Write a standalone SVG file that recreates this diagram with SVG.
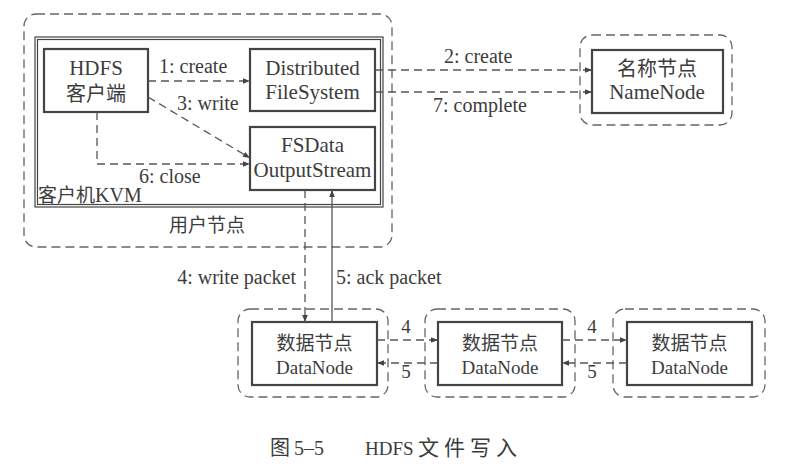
<svg xmlns="http://www.w3.org/2000/svg" width="793" height="468" viewBox="0 0 793 468">
<style>
.bg{fill:#ffffff}
.grp{fill:none;stroke:#666;stroke-width:1.3;stroke-dasharray:9 5}
.box{fill:#fff;stroke:#444;stroke-width:2.2}
.kvm{fill:none;stroke:#444;stroke-width:1.2}
.en{font-family:"Liberation Serif","Times New Roman",serif;fill:#3c3c3c}
.cn{font-family:"Noto Sans CJK SC","Noto Sans CJK JP",sans-serif;fill:#3c3c3c}
.dash{fill:none;stroke:#555;stroke-width:1.3;stroke-dasharray:8 5}
.solid{fill:none;stroke:#555;stroke-width:1.3}
</style>
<defs>
<marker id="ah" viewBox="0 0 10 10" refX="10" refY="5" markerWidth="9" markerHeight="7" markerUnits="userSpaceOnUse" orient="auto">
<path d="M0,1 L10,5 L0,9 Z" fill="#444"/>
</marker>
</defs>
<rect class="bg" x="0" y="0" width="793" height="468"/>

<g id="user-node">
<rect class="grp" x="24" y="14" width="368" height="233" rx="12"/>
<text class="cn" x="207" y="232" font-size="19" text-anchor="middle">用户节点</text>
</g>
<g id="client-kvm">
<rect class="kvm" x="35" y="37" width="348" height="170"/>
<rect class="kvm" x="37.5" y="39.5" width="343" height="165"/>
<text x="38" y="202" font-size="19"><tspan class="cn">客户机</tspan><tspan class="en" font-size="20">KVM</tspan></text>
</g>
<g id="hdfs-client">
<rect class="box" x="44" y="49" width="104" height="63"/>
<text class="en" x="96" y="75" font-size="21" text-anchor="middle">HDFS</text>
<text class="cn" x="96" y="101" font-size="20" text-anchor="middle">客户端</text>
</g>
<g id="dfs">
<rect class="box" x="250" y="49" width="125" height="62"/>
<text class="en" x="312.5" y="75" font-size="21" text-anchor="middle">Distributed</text>
<text class="en" x="312.5" y="99" font-size="21" text-anchor="middle">FileSystem</text>
</g>
<g id="fsdata">
<rect class="box" x="250" y="127" width="125" height="63"/>
<text class="en" x="312.5" y="152" font-size="21" text-anchor="middle">FSData</text>
<text class="en" x="312.5" y="177" font-size="21" text-anchor="middle">OutputStream</text>
</g>
<g id="namenode">
<rect class="grp" x="580" y="35" width="152" height="90" rx="12"/>
<rect class="box" x="592" y="50" width="131" height="63"/>
<text class="cn" x="657" y="76" font-size="20" text-anchor="middle">名称节点</text>
<text class="en" x="657" y="99" font-size="21" text-anchor="middle">NameNode</text>
</g>
<g id="datanode1">
<rect class="grp" x="238" y="309" width="150" height="88" rx="12"/>
<rect class="box" x="252" y="322" width="125" height="63"/>
<text class="cn" x="314.5" y="350" font-size="19" text-anchor="middle">数据节点</text>
<text class="en" x="314.5" y="374" font-size="19" text-anchor="middle">DataNode</text>
</g>
<g id="datanode2">
<rect class="grp" x="425" y="309" width="150" height="88" rx="12"/>
<rect class="box" x="438" y="322" width="124" height="63"/>
<text class="cn" x="500" y="350" font-size="19" text-anchor="middle">数据节点</text>
<text class="en" x="500" y="374" font-size="19" text-anchor="middle">DataNode</text>
</g>
<g id="datanode3">
<rect class="grp" x="613" y="309" width="152" height="88" rx="12"/>
<rect class="box" x="627" y="322" width="125" height="63"/>
<text class="cn" x="689.5" y="350" font-size="19" text-anchor="middle">数据节点</text>
<text class="en" x="689.5" y="374" font-size="19" text-anchor="middle">DataNode</text>
</g>

<g id="connectors">
<line class="dash" x1="148" y1="81" x2="250" y2="81" marker-end="url(#ah)"/>
<line class="dash" x1="148" y1="97" x2="250" y2="158" marker-end="url(#ah)"/>
<path class="dash" d="M97,112 V164 H250" marker-end="url(#ah)"/>
<line class="dash" x1="375" y1="70" x2="592" y2="70" marker-end="url(#ah)"/>
<line class="dash" x1="375" y1="92" x2="592" y2="92" marker-end="url(#ah)"/>
<line class="dash" x1="305" y1="190" x2="305" y2="322" marker-end="url(#ah)"/>
<line class="solid" x1="332" y1="322" x2="332" y2="190" marker-end="url(#ah)"/>
<line class="dash" x1="377" y1="340" x2="438" y2="340" marker-end="url(#ah)"/>
<line class="dash" x1="438" y1="363" x2="377" y2="363" marker-end="url(#ah)"/>
<line class="dash" x1="562" y1="340" x2="627" y2="340" marker-end="url(#ah)"/>
<line class="dash" x1="627" y1="363" x2="562" y2="363" marker-end="url(#ah)"/>
<text class="en" x="159" y="73" font-size="20">1: create</text>
<text class="en" x="177" y="110" font-size="20">3: write</text>
<text class="en" x="139" y="183" font-size="20">6: close</text>
<text class="en" x="444" y="63" font-size="20">2: create</text>
<text class="en" x="433" y="112" font-size="20">7: complete</text>
<text class="en" x="296" y="284" font-size="20" text-anchor="end">4: write packet</text>
<text class="en" x="336" y="284" font-size="20">5: ack packet</text>
<text class="en" x="406" y="333" font-size="19" text-anchor="middle">4</text>
<text class="en" x="406" y="378" font-size="19" text-anchor="middle">5</text>
<text class="en" x="592" y="333" font-size="19" text-anchor="middle">4</text>
<text class="en" x="592" y="378" font-size="19" text-anchor="middle">5</text>
</g>

<g id="caption">
<text class="cn" x="270" y="455" font-size="20" fill="#555">图</text>
<text class="en" x="294" y="455" font-size="20" fill="#555">5–5</text>
<text class="en" x="365" y="455" font-size="19" fill="#555">HDFS</text>
<text class="cn" x="418" y="455" font-size="21" fill="#555" letter-spacing="5">文件写入</text>
</g>
</svg>
